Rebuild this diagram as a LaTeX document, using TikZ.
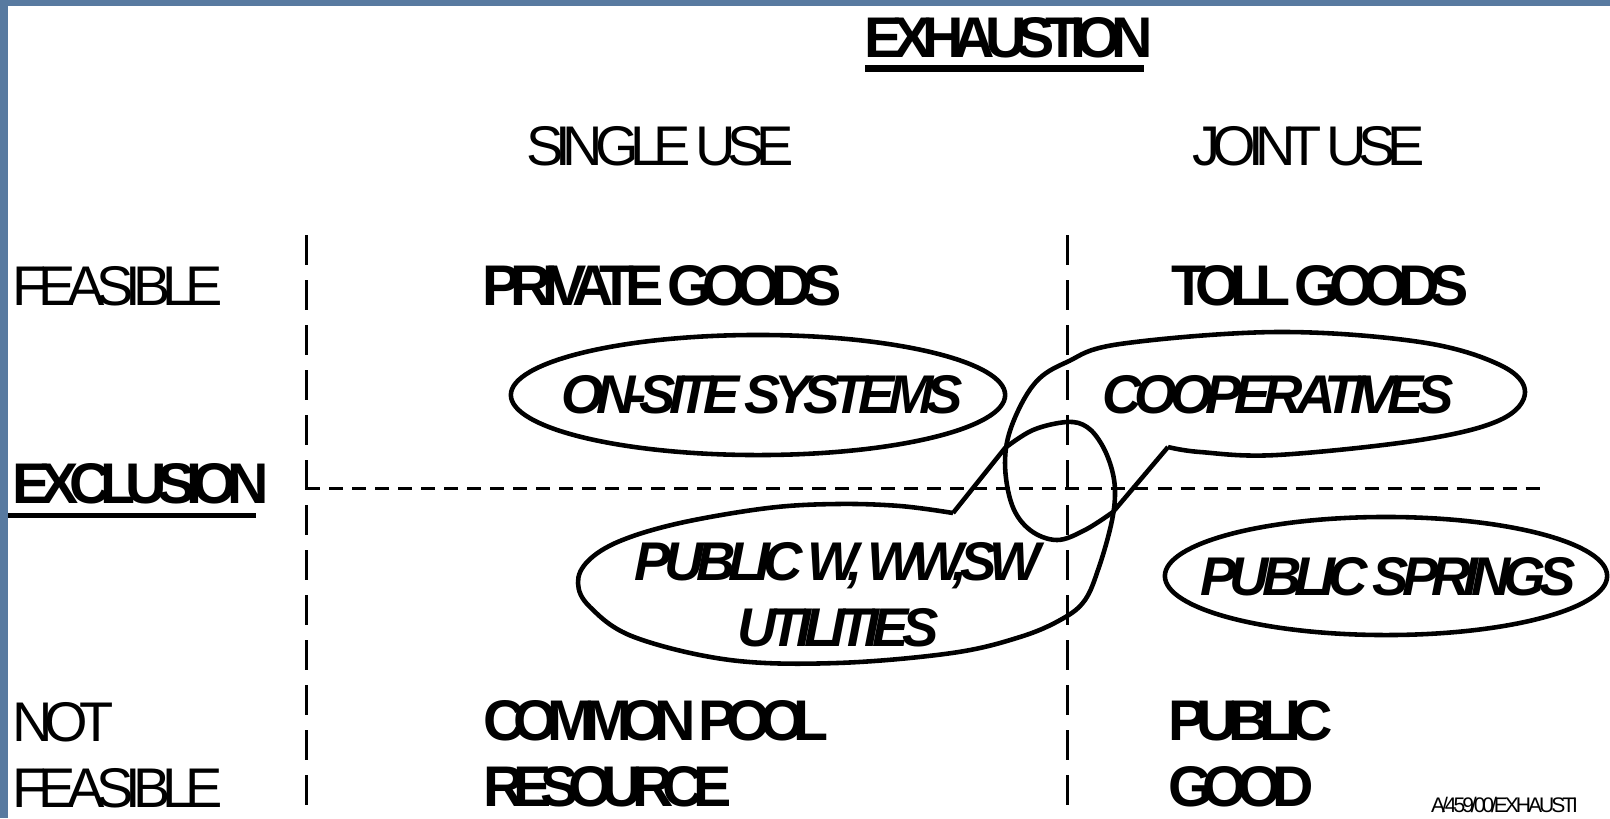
\documentclass[tikz,border=0pt]{standalone}
\usepackage{fontspec}
\setmainfont{Liberation Sans}
\newfontfamily\regfont[LetterSpace=-14.5,WordSpace=0.6]{Liberation Sans}
\newfontfamily\heavyfont[LetterSpace=-17,WordSpace=0.6]{Liberation Sans}
\newfontfamily\tightfont[LetterSpace=-19,WordSpace=0.6]{Liberation Sans}
\newfontfamily\ovalfont[LetterSpace=-13,WordSpace=0.6]{Liberation Sans}
\definecolor{frameblue}{RGB}{88,122,160}
\tikzset{
  every node/.style={inner sep=0pt,outer sep=0pt},
  plaintext/.style={font=\regfont\fontsize{15.9}{18.8}\selectfont},
  heavytext/.style={font=\heavyfont\bfseries\fontsize{16.3}{18.8}\selectfont},
  tighttext/.style={font=\tightfont\bfseries\fontsize{16.3}{18.8}\selectfont},
  ovaltext/.style={font=\ovalfont\bfseries\itshape\fontsize{15.5}{18.8}\selectfont},
  vdivider/.style={line width=0.85pt,dash pattern=on 0.3cm off 0.15cm},
  hdivider/.style={line width=0.85pt,dash pattern=on 0.14cm off 0.09cm},
  balloon/.style={line width=1.3pt,line join=round}
}
\begin{document}
\begin{tikzpicture}[x=0.01cm,y=-0.01cm]
\useasboundingbox (0,0) rectangle (1610,818);
\fill[frameblue] (0,0) rectangle (1610,6);
\fill[frameblue] (0,0) rectangle (8,818);

\coordinate (singletop) at (306,235);
\coordinate (singlebot) at (306,818);
\coordinate (jointtop) at (1067,235);
\coordinate (jointbot) at (1067,818);
\coordinate (exclleft) at (306,488);
\coordinate (exclright) at (1545,488);
\draw[vdivider] (singletop) -- (singlebot);
\draw[vdivider] (jointtop) -- (jointbot);
\draw[hdivider] (exclleft) -- (exclright);

\node[heavytext,anchor=base] (exhaustion) at (1009,57) {EXHAUSTION};
\fill (865,65) rectangle (1144,72);
\node[plaintext,anchor=base] (single) at (660,165) {SINGLE USE};
\node[plaintext,anchor=base] (joint) at (1309,165) {JOINT USE};

\node[plaintext,anchor=base west] (feasible) at (12,305) {FEASIBLE};
\node[heavytext,anchor=base west] (exclusion) at (12,503) {EXCLUSION};
\fill (8,513) rectangle (256,518);
\node[plaintext,anchor=north west,align=left] (notfeasible) at (12,702) {NOT\\FEASIBLE};

\node[heavytext,anchor=base west] (private) at (482,305) {PRIVATE GOODS};
\node[heavytext,anchor=base west] (toll) at (1171,305) {TOLL GOODS};
\node[tighttext,anchor=north west,align=left] (common) at (483,700) {COMMON POOL\\RESOURCE};
\node[heavytext,anchor=north west,align=left] (public) at (1168,700) {PUBLIC\\GOOD};

\draw[balloon] (758,395) ellipse [x radius=2.47cm,y radius=0.6cm];
\node[ovaltext,anchor=base] (onsite) at (762,413) {ON-SITE SYSTEMS};

\draw[balloon] (1168,447) -- plot[smooth,tension=0.6] coordinates {(1113,512) (1085,530)
  (1057,540) (1030,530) (1012,505) (1005,463) (1012,425) (1035,383) (1067,362) (1120,344)
  (1277,332) (1420,342) (1500,365) (1525,392) (1500,420) (1420,440) (1277,455) (1200,452)
  (1168,447)};
\node[ovaltext,anchor=base] (coop) at (1278,413) {COOPERATIVES};

\draw[balloon] (953,513) -- plot[smooth,tension=0.6] coordinates {(1005,448) (1033,430)
  (1067,422) (1087,427) (1102,445) (1112,470) (1115,495) (1111,525) (1099,567) (1085,600)
  (1062,619) (1020,637) (952,653) (837,663) (730,660) (634,637) (590,607) (578,583)
  (588,561) (620,541) (680,523) (768,508) (837,504) (900,506) (953,513)};
\node[ovaltext,anchor=north,align=center] (utilities) at (838,542) {PUBLIC W, WW,SW\\UTILITIES};

\draw[balloon] (1386,576) ellipse [x radius=2.21cm,y radius=0.59cm];
\node[ovaltext,anchor=base] (springs) at (1388,595) {PUBLIC SPRINGS};

\node[font=\regfont\fontsize{6}{7}\selectfont,anchor=base east] (ref) at (1578,812) {A/459/00/EXHAUSTI};
\end{tikzpicture}
\end{document}
